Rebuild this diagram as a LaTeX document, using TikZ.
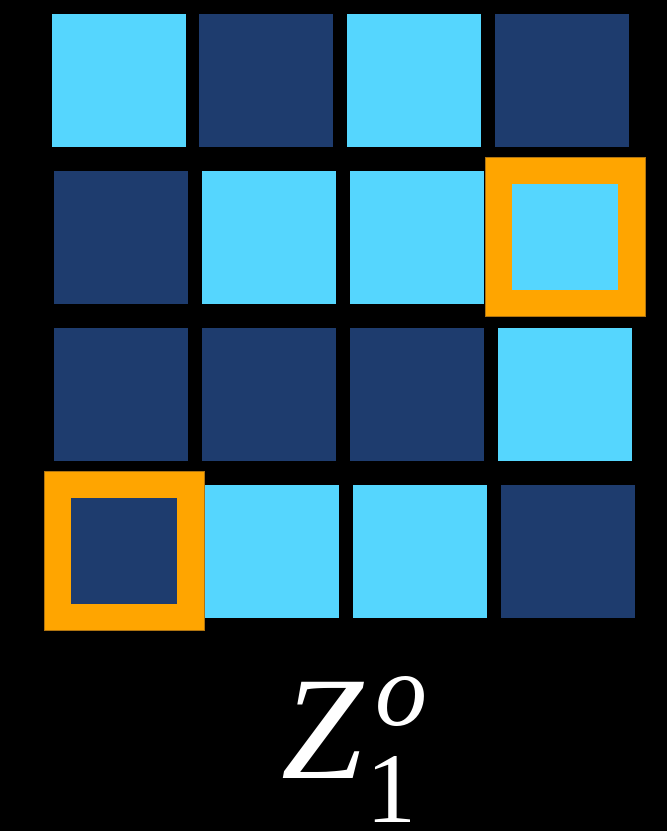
\documentclass[tikz,border=0pt]{standalone}
\usepackage{fontspec}
\newfontfamily\tms{Liberation Serif}
\definecolor{lightc}{HTML}{55D6FE}
\definecolor{darkc}{HTML}{1E3C6E}
\definecolor{orangec}{HTML}{FFA500}
\definecolor{orangeedge}{HTML}{B07410}
\begin{document}
\begin{tikzpicture}[x=1pt,y=-1pt,
  sq/.style={anchor=north west,inner sep=0pt,outer sep=0pt,minimum width=134pt,minimum height=133pt},
  lt/.style={sq,fill=lightc},
  dk/.style={sq,fill=darkc},
  hl/.style={anchor=north west,inner sep=0pt,outer sep=0pt,minimum width=160pt,minimum height=159pt,fill=orangec,draw=orangeedge,line width=0.8pt},
  inner/.style={anchor=north west,inner sep=0pt,outer sep=0pt,minimum width=106pt,minimum height=106pt},
  lbl/.style={anchor=base west,inner sep=0pt,text=white}]
\fill[black] (0,0) rectangle (667,831);
\useasboundingbox (0,0) rectangle (667,831);
% row 1
\node[lt] (a11) at (52,14) {};
\node[dk] (a12) at (199,14) {};
\node[lt] (a13) at (347,14) {};
\node[dk] (a14) at (495,14) {};
% row 2
\node[dk] (a21) at (54,171) {};
\node[lt] (a22) at (202,171) {};
\node[lt] (a23) at (350,171) {};
\node[hl] (h24) at (485,157) {};
\node[inner,fill=lightc] (a24) at (512,184) {};
% row 3
\node[dk] (a31) at (54,328) {};
\node[dk] (a32) at (202,328) {};
\node[dk] (a33) at (350,328) {};
\node[lt] (a34) at (498,328) {};
% row 4
\node[hl] (h41) at (44,471) {};
\node[inner,fill=darkc] (a41) at (71,498) {};
\node[lt] (a42) at (205,485) {};
\node[lt] (a43) at (353,485) {};
\node[dk] (a44) at (501,485) {};
% label
\node[lbl,font=\tms\fontsize{147}{150}\selectfont\itshape] (z) at (281,778) {Z};
\node[lbl,font=\tms\fontsize{104}{110}\selectfont\itshape] (zo) at (375,725) {o};
\node[lbl,font=\tms\fontsize{100}{110}\selectfont] (z1) at (366,822) {1};
\end{tikzpicture}
\end{document}
